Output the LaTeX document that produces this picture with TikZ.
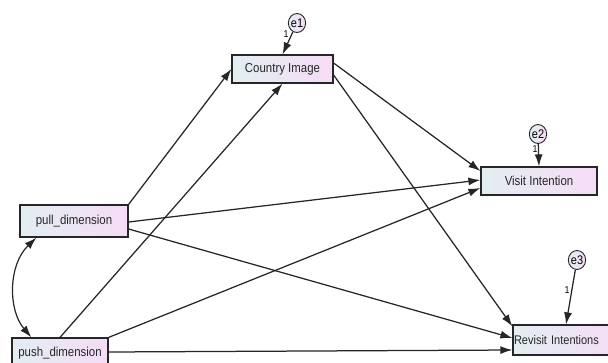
\documentclass[tikz,border=0pt]{standalone}
\usepackage{fontspec}
\setmainfont{Liberation Sans}
\newfontfamily\narrowfont[FakeStretch=0.88]{Liberation Sans}
\usetikzlibrary{arrows.meta,calc,shapes.geometric}
\definecolor{boxleft}{HTML}{E2EEF2}
\definecolor{boxright}{HTML}{F6DCF6}
\definecolor{linec}{HTML}{262626}
\begin{document}
\begin{tikzpicture}[x=1pt,y=-1pt,
  varbox/.style={draw=linec,line width=1.2pt,left color=boxleft,right color=boxright,
    minimum height=28pt,inner sep=0pt,font=\narrowfont\fontsize{13}{13}\selectfont,text=black!85},
  errnode/.style={draw=linec,line width=0.9pt,ellipse,left color=boxleft,right color=boxright,
    minimum width=15pt,minimum height=19pt,inner sep=0pt,font=\narrowfont\fontsize{12.5}{12.5}\selectfont},
  conn/.style={draw=linec,line width=1.25pt,-{Latex[length=12pt,width=8pt]}},
  onelabel/.style={font=\narrowfont\fontsize{10}{10}\selectfont,inner sep=0pt}]
\useasboundingbox (0,0) rectangle (608,362);
\clip (0,0) rectangle (608,362);
\node[varbox,minimum width=101pt] (ci) at (282.5,69) {Country Image};
\node[varbox,minimum width=116pt] (vi) at (539,181) {Visit Intention};
\node[varbox,minimum width=108pt,minimum height=32pt] (pull) at (74,221) {pull\_dimension};
\node[varbox,minimum width=96pt,minimum height=30pt] (push) at (60,353) {push\_dimension};
\node[varbox,minimum width=106pt,minimum height=30pt,align=left,text width=96pt,font=\narrowfont\fontsize{12.5}{12.5}\selectfont] (ri) at (566,340) {\hspace*{-4pt}Revisit Intentions};
\node[errnode] (e1) at (297,23) {e1};
\node[errnode] (e2) at (538,134) {e2};
\node[errnode] (e3) at (577,260) {e3};
\draw[conn] (e1) -- (ci.north);
\draw[conn] (e2) -- (vi.north);
\draw[conn] (e3) -- (ri.north);
\node[onelabel] (l1) at (286,34) {1};
\node[onelabel] (l2) at (535,149) {1};
\node[onelabel] (l3) at (567,290) {1};
\draw[conn] (pull.north east) -- (ci.west);
\draw[conn] (push.north) -- (ci.south);
\draw[conn] ($(ci.east)+(0,-6)$) -- ($(vi.west)+(0,-10)$);
\draw[conn] ($(ci.east)+(0,6)$) -- ($(ri.north west)+(0,2)$);
\draw[conn] ($(pull.east)+(0,1)$) -- ($(vi.west)+(0,-1)$);
\draw[conn] ($(pull.east)+(0,8)$) -- ($(ri.west)+(0,-2)$);
\draw[conn] (push.north east) -- ($(vi.west)+(0,7)$);
\draw[conn] ($(push.east)+(0,-1)$) -- ($(ri.west)+(0,10)$);
\draw[draw=linec,line width=1.2pt,{Latex[length=12pt,width=8pt]}-{Latex[length=12pt,width=8pt]}]
  ($(pull.south west)+(17,0)$) .. controls (8,265) and (8,310) .. ($(push.north west)+(20,0)$);
\end{tikzpicture}
\end{document}
